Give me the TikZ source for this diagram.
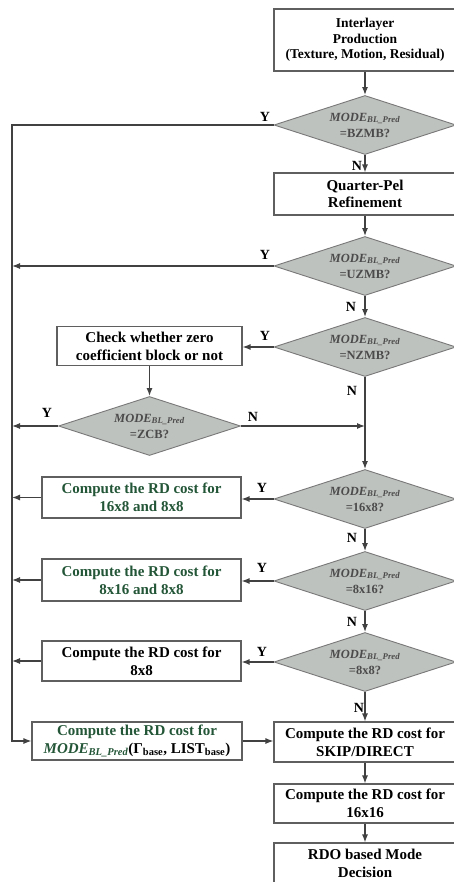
\documentclass[tikz,border=0pt]{standalone}
\usepackage{fontspec}
\setmainfont{Liberation Serif}
\usetikzlibrary{shapes.geometric,arrows.meta}

\definecolor{linegray}{RGB}{65,65,65}
\definecolor{boxgray}{RGB}{95,95,95}
\definecolor{dfill}{RGB}{190,194,190}
\definecolor{dedge}{RGB}{120,120,120}
\definecolor{dtext}{RGB}{75,75,75}
\definecolor{gtext}{RGB}{35,85,55}

% mode symbol used inside the decision diamonds
\newcommand{\modebl}{\textit{MODE}\textsubscript{\textit{BL\_Pred}}}

\begin{document}
\begin{tikzpicture}[x=1pt,y=-1pt,
  proc/.style={draw=boxgray, line width=1.1pt, fill=white, rectangle,
    inner sep=0pt, align=center, minimum width=182pt,
    font=\bfseries\fontsize{15}{18}\selectfont},
  decide/.style={draw=dedge, line width=0.9pt, fill=dfill, diamond, aspect=3,
    inner sep=0pt, align=center, minimum width=182pt, minimum height=59pt,
    text=dtext, font=\bfseries\fontsize{12.5}{16}\selectfont},
  flow/.style={draw=linegray, line width=1.2pt, -{Latex[length=8pt,width=6pt]}},
  lbl/.style={font=\bfseries\fontsize{14}{14}\selectfont, inner sep=0pt}]

\useasboundingbox (0,0) rectangle (454,882);
\fill[white] (0,0) rectangle (454,882);

% main column
\node[proc, minimum height=62pt, font=\bfseries\fontsize{13.5}{15.5}\selectfont]
  (b1) at (365,40) {Interlayer\\Production\\(Texture, Motion, Residual)};
\node[decide] (d1) at (365,125) {\modebl\\=BZMB?};
\node[proc, minimum height=42pt, font=\bfseries\fontsize{15}{16.5}\selectfont]
  (b2) at (365,194) {Quarter-Pel\\Refinement};
\node[decide] (d2) at (365,266) {\modebl\\=UZMB?};
\node[decide] (d3) at (365,347) {\modebl\\=NZMB?};
\node[decide] (d5) at (365,499) {\modebl\\=16x8?};
\node[decide] (d6) at (365,581) {\modebl\\=8x16?};
\node[decide] (d7) at (365,662) {\modebl\\=8x8?};
\node[proc, minimum height=40pt] (b7) at (365,742) {Compute the RD cost for\\SKIP/DIRECT};
\node[proc, minimum height=39pt] (b9) at (365,803.5) {Compute the RD cost for\\16x16};
\node[proc, minimum height=40pt] (b10) at (365,863) {RDO based Mode\\Decision};

% zero coefficient branch
\node[proc, minimum width=185pt, minimum height=39pt] (b3) at (149.5,346)
  {Check whether zero\\coefficient block or not};
\node[decide] (d4) at (149.5,426) {\modebl\\=ZCB?};

% partition cost boxes
\node[proc, minimum width=199pt, minimum height=41pt, text=gtext] (b4) at (141.5,497.5)
  {Compute the RD cost for\\16x8 and 8x8};
\node[proc, minimum width=199pt, minimum height=42pt, text=gtext] (b5) at (141.5,580)
  {Compute the RD cost for\\8x16 and 8x8};
\node[proc, minimum width=199pt, minimum height=40pt] (b6) at (141.5,661)
  {Compute the RD cost for\\8x8};
\node[proc, minimum width=210pt, minimum height=38pt] (b8) at (137,741)
  {\textcolor{gtext}{Compute the RD cost for}\\
   \textcolor{gtext}{\textit{MODE}\textsubscript{\textit{BL\_Pred}}}(Γ\textsubscript{base}, LIST\textsubscript{base})};

% left collector line
\coordinate (ltop) at (12,125);

% connectors
\draw[flow] (b1) -- (d1);
\draw[flow] (d1.west) -- (ltop) |- (b8.west);
\draw[flow] (d1) -- (b2);
\draw[flow] (b2) -- (d2);
\draw[flow] (d2.west) -- (d2.west -| ltop);
\draw[flow] (d2) -- (d3);
\draw[flow] (d3.west) -- (d3.west -| b3.east);
\draw[flow] (b3) -- (d4);
\draw[flow] (d4.west) -- (d4.west -| ltop);
\draw[flow] (d4.east) -- (d4.east -| d3.south);
\draw[flow] (d3.south) -- (d5.north);
\draw[flow] (d5.west) -- (d5.west -| b4.east);
\draw[flow] (b4.west) -- (b4.west -| ltop);
\draw[flow] (d5) -- (d6);
\draw[flow] (d6.west) -- (d6.west -| b5.east);
\draw[flow] (b5.west) -- (b5.west -| ltop);
\draw[flow] (d6) -- (d7);
\draw[flow] (d7.west) -- (d7.west -| b6.east);
\draw[flow] (b6.west) -- (b6.west -| ltop);
\draw[flow] (d7) -- (b7);
\draw[flow] (b8.east) -- (b8.east -| b7.west);
\draw[flow] (b7) -- (b9);
\draw[flow] (b9) -- (b10);

% branch labels
\node[lbl] (y1) at (265,117) {Y};
\node[lbl] (n1) at (357,166) {N};
\node[lbl] (y2) at (265,255) {Y};
\node[lbl] (n2) at (351,307) {N};
\node[lbl] (y3) at (265,336) {Y};
\node[lbl] (n3) at (352,391) {N};
\node[lbl] (y4) at (47,413) {Y};
\node[lbl] (n4) at (253,417) {N};
\node[lbl] (y5) at (262,488) {Y};
\node[lbl] (n5) at (352,538) {N};
\node[lbl] (y6) at (262,568) {Y};
\node[lbl] (n6) at (352,622) {N};
\node[lbl] (y7) at (262,652) {Y};
\node[lbl] (n7) at (359,708) {N};
\end{tikzpicture}
\end{document}
